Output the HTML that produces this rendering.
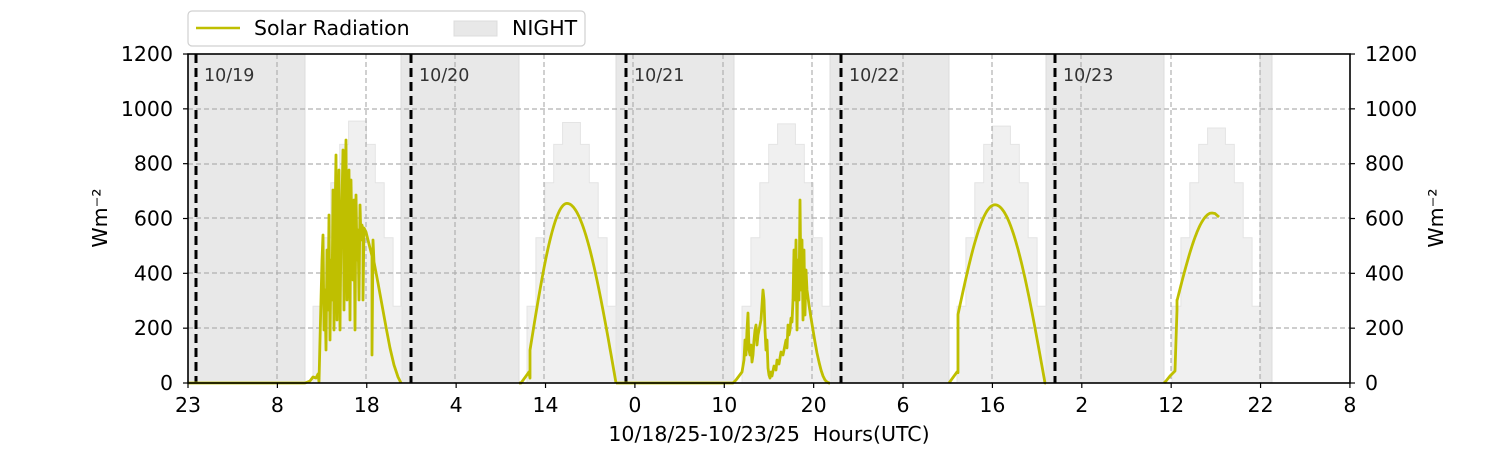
<!DOCTYPE html>
<html><head><meta charset="utf-8"><style>
body{margin:0;background:#fff}
svg{display:block;font-family:"DejaVu Sans","Liberation Sans",sans-serif}
</style></head><body>
<svg id="s" width="1500" height="450" viewBox="0 0 1500 450" xmlns="http://www.w3.org/2000/svg">
<g fill="#e8e8e8" stroke="#dcdcdc" stroke-width="1">
<rect x="188" y="54" width="117" height="329"/>
<rect x="401" y="54" width="118" height="329"/>
<rect x="616" y="54" width="118" height="329"/>
<rect x="830" y="54" width="119" height="329"/>
<rect x="1046" y="54" width="118" height="329"/>
<rect x="1260" y="54" width="12" height="329"/>
</g>
<g id="bars" fill="#f0f0f0" stroke="#e4e4e4" stroke-width="1"></g>
<g stroke="#b0b0b0" stroke-width="1.2" stroke-dasharray="5,3" fill="none">
<path d="M188 109H1350M188 164H1350M188 218H1350M188 273H1350M188 328H1350"/>
<path d="M277 54V383M366 54V383M455 54V383M544 54V383M633 54V383M723 54V383M812 54V383M903 54V383M992 54V383M1081 54V383M1171 54V383M1260 54V383"/>
</g>
<g stroke="#000" stroke-width="3" stroke-dasharray="9,5">
<path d="M196 54V383M411 54V383M626 54V383M841 54V383M1055 54V383"/>
</g>
<g fill="#333" font-size="17.5">
<text x="204" y="81">10/19</text><text x="419" y="81">10/20</text><text x="634" y="81">10/21</text><text x="849" y="81">10/22</text><text x="1063" y="81">10/23</text>
</g>
<g id="sol" fill="none" stroke="#bfbf00" stroke-width="2.8" stroke-linejoin="round">
<polyline points="188,383 305,383 310,381 313,377 316,378 318,374 319,382 320,340 321,300 322,260 323,235 324,330 325,290 326,350 327,250 328,310 329,215 330,340 331,260 332,300 333,190 334,330 335,220 336,155 337,320 338,240 339,170 340,330 341,230 342,200 343,150 344,310 345,190 346,140 347,300 348,250 349,170 350,320 351,180 352,240 353,280 354,200 355,330 356,195 357,260 358,230 359,300 360,205 361,240 362,225 363,230 363,300 364,228 366,232 368,240 370,248 372,256 372,355 373,240 374,262 378,283 382,305 386,327 390,348 394,365 398,377 401,383"/>
<polyline points="616,383 700,383 733,383 736,380 739,376 742,372 744,360 745,340 746,355 747,330 748,313 749,350 750,355 751,345 752,362 753,355 754,340 755,330 756,325 757,345 758,335 761,320 763,290 764,300 765,330 766,350 767,340 768,368 769,375 770,378 771,372 772,376 774,366 776,370 777,360 779,364 781,352 783,355 785,345 786,340 787,348 788,325 789,335 790,330 791,318 792,322 793,300 794,250 795,300 796,240 797,330 798,260 799,300 800,200 801,290 802,240 803,320 804,250 805,315 806,270 807,290 809,305 811,318 813,330 815,342 817,353 819,362 821,370 823,376 825,380 827,382 829,383 830,383"/>
</g>
<rect x="188" y="54" width="1162" height="329" fill="none" stroke="#000" stroke-width="1.6"/>
<g stroke="#000" stroke-width="1.2" id="ticks"></g>
<g font-size="20.5" fill="#000" text-anchor="end" id="yl"></g>
<g font-size="20.5" fill="#000" text-anchor="start" id="yr"></g>
<g font-size="20.5" fill="#000" text-anchor="middle" id="xl"></g>
<text x="769" y="441" font-size="20.5" text-anchor="middle">10/18/25-10/23/25&#160;&#160;Hours(UTC)</text>
<text transform="translate(107,218) rotate(-90)" font-size="20.5" text-anchor="middle">Wm⁻²</text>
<text transform="translate(1443,218) rotate(-90)" font-size="20.5" text-anchor="middle">Wm⁻²</text>
<rect x="188" y="11" width="397" height="35" rx="4" fill="#fff" stroke="#d0d0d0" stroke-width="1.2"/>
<line x1="196" y1="28" x2="240" y2="28" stroke="#bfbf00" stroke-width="2.5"/>
<text x="254" y="35" font-size="20.5">Solar Radiation</text>
<rect x="454" y="21" width="43" height="15" fill="#e8e8e8" stroke="#dcdcdc"/>
<text x="512" y="35" font-size="20.5">NIGHT</text>
</svg>
<script>
var NS="http://www.w3.org/2000/svg";
function Y(v){return 383-v*0.2742;}
function el(t,a,p){var e=document.createElementNS(NS,t);for(var k in a)e.setAttribute(k,a[k]);p.appendChild(e);return e;}
var bars=document.getElementById('bars');
var days=[[313,955],[527,950],[742,945],[957,937],[1172,930]];
days.forEach(function(d){var pk=d[1];var prof=[280,530,730,870,pk,pk,870,730,530,280];
 var s=d[0], w=8.9, dstr="M"+s+" 383";
 prof.forEach(function(v,i){var x0=s+i*w,x1=x0+w;dstr+=" L"+x0.toFixed(1)+" "+Y(v).toFixed(1)+" L"+x1.toFixed(1)+" "+Y(v).toFixed(1);});
 dstr+=" L"+(s+10*w).toFixed(1)+" 383 Z";el('path',{d:dstr},bars);});
var sol=document.getElementById('sol');
function smooth(x0,x1,rampTo,jumpX,jumpV,px,pv,ex){
 var pts=[[x0,383],[rampTo-9,383]];
 pts.push([jumpX-1,Y(40)]);pts.push([jumpX,Y(jumpV*0.15)]);
 for(var x=jumpX;x<=px;x+=1){var t=(x-jumpX)/(px-jumpX);var v=jumpV+(pv-jumpV)*Math.sin(t*Math.PI/2);pts.push([x,Y(v)]);}
 for(var x=px;x<=ex;x+=1){var t=(x-px)/(ex-px);pts.push([x,Y(pv*Math.cos(t*Math.PI/2))]);}pts.push([x1,383]);
 el('polyline',{points:pts.map(function(p){return p[0].toFixed(1)+","+p[1].toFixed(1)}).join(" ")},sol);}
smooth(519,616,530,530,120,567,655,616);
smooth(949,1046,958,958,250,995,650,1045);
(function(){var pts=[[1164,383],[1166,381],[1170,376],[1175,371],[1176,340],[1177,310],[1177,300]];
for(var x=1177;x<=1212;x++){var t=(x-1177)/35;pts.push([x,Y(300+320*Math.sin(t*Math.PI/2))]);}
pts.push([1215,Y(618)]);pts.push([1219,Y(605)]);
el('polyline',{points:pts.map(function(p){return p[0].toFixed(1)+","+p[1].toFixed(1)}).join(" ")},sol);})();
var ticks=document.getElementById('ticks'),yl=document.getElementById('yl'),yr=document.getElementById('yr'),xl=document.getElementById('xl');
for(var i=0;i<=6;i++){var y=383-i*54.83;
 el('line',{x1:183,x2:188,y1:y,y2:y},ticks);el('line',{x1:1350,x2:1355,y1:y,y2:y},ticks);
 var t=el('text',{x:173,y:y+7},yl);t.textContent=i*200;
 t=el('text',{x:1365,y:y+7},yr);t.textContent=i*200;}
var xs=[23,8,18,4,14,0,10,20,6,16,2,12,22,8];
xs.forEach(function(v,i){var x=188+i*89.38;el('line',{x1:x,x2:x,y1:383,y2:388},ticks);var t=el('text',{x:x,y:412},xl);t.textContent=v;});
</script>
</body></html>
